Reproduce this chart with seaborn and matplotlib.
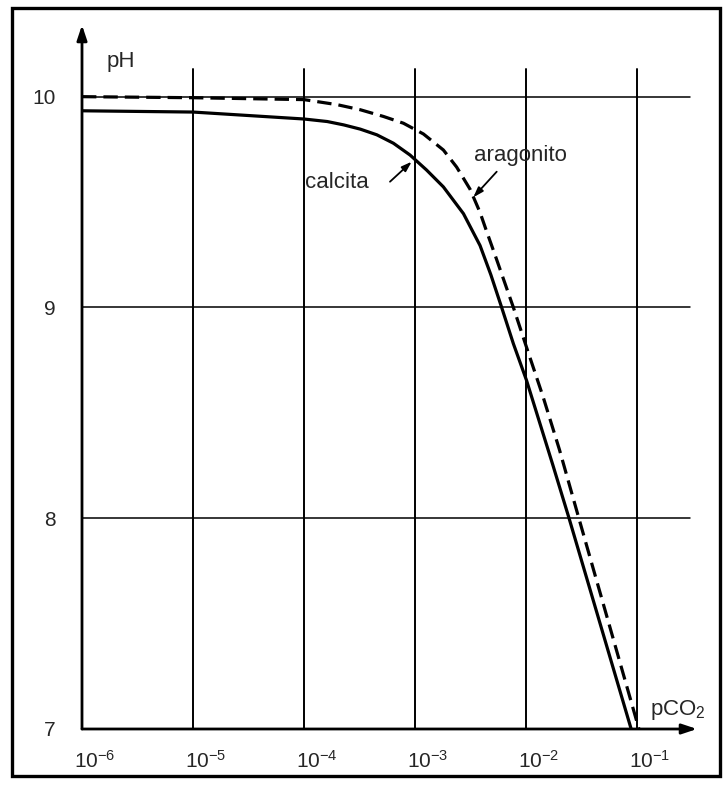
import matplotlib
matplotlib.use("Agg")
import matplotlib.pyplot as plt
import matplotlib.transforms as mtransforms
from matplotlib.patches import Rectangle
import seaborn as sns
import pandas as pd

# ---- data ----
calcita_pco2 = [1e-6, 1e-5, 1e-4, 1.62e-4, 2.28e-4, 3.21e-4, 4.53e-4, 6.39e-4, 9.02e-4,
                1.27e-3, 1.80e-3, 2.73e-3, 3.85e-3, 4.82e-3, 6.03e-3, 7.69e-3, 1.01e-2,
                1.74e-2, 2.44e-2, 8.85e-2]
calcita_ph = [9.933, 9.927, 9.894, 9.882, 9.866, 9.846, 9.819, 9.779, 9.723,
              9.652, 9.572, 9.445, 9.294, 9.155, 9.0, 8.828, 8.654,
              8.254, 8.0, 7.0]

aragonito_pco2 = [1e-6, 1e-5, 1e-4, 1.99e-4, 3.21e-4, 5.2e-4, 7.86e-4, 1.19e-3, 1.80e-3,
                  2.37e-3, 3.13e-3, 3.85e-3, 4.42e-3, 5.28e-3, 7.69e-3, 1.01e-2,
                  1.42e-2, 2.0e-2, 2.99e-2, 0.104]
aragonito_ph = [10.0, 9.995, 9.986, 9.962, 9.938, 9.906, 9.874, 9.823, 9.747,
                9.666, 9.561, 9.451, 9.36, 9.246, 9.0, 8.811,
                8.578, 8.325, 8.0, 7.0]

x_ticks = [1e-6, 1e-5, 1e-4, 1e-3, 1e-2, 1e-1]
x_tick_labels = [r"$\mathregular{10^{-6}}$", r"$\mathregular{10^{-5}}$", r"$\mathregular{10^{-4}}$",
                 r"$\mathregular{10^{-3}}$", r"$\mathregular{10^{-2}}$", r"$\mathregular{10^{-1}}$"]
y_ticks = [7, 8, 9, 10]
y_tick_labels = ["7", "8", "9", "10"]

df = pd.concat([
    pd.DataFrame({"pCO2": calcita_pco2, "pH": calcita_ph, "mineral": "calcita"}),
    pd.DataFrame({"pCO2": aragonito_pco2, "pH": aragonito_ph, "mineral": "aragonito"}),
], ignore_index=True)

# ---- style ----
sns.set_style("white")
plt.rcParams["font.family"] = ["Liberation Sans", "DejaVu Sans"]
plt.rcParams["mathtext.fontset"] = "custom"
plt.rcParams["mathtext.rm"] = "Liberation Sans"
plt.rcParams["mathtext.it"] = "Liberation Sans:italic"
plt.rcParams["mathtext.bf"] = "Liberation Sans:bold"

W, H = 723, 785
fig = plt.figure(figsize=(W / 100, H / 100), dpi=100)
ax = fig.add_axes([82 / W, 56 / H, (697 - 82) / W, (729 - 25) / H])

ax.set_xscale("log")
ax.set_xlim(1e-6, 10 ** -0.46)
ax.set_ylim(7, 10.34)

# grid lines (partial, as in the reference)
for yv in [8, 9, 10]:
    ax.plot([1e-6, 10 ** -0.52], [yv, yv], color="black", lw=1.1, zorder=1)
for xv in x_ticks[1:]:
    ax.plot([xv, xv], [7, 10.13], color="black", lw=1.4, zorder=1)

sns.lineplot(data=df, x="pCO2", y="pH", style="mineral",
             dashes={"calcita": "", "aragonito": (4.5, 2.2)},
             color="black", lw=2.3, legend=False, sort=False, estimator=None,
             ax=ax, zorder=3)
for ln in ax.get_lines():
    ln.set_solid_joinstyle("round")
    ln.set_dash_joinstyle("round")

for s in ax.spines.values():
    s.set_visible(False)

# axes with arrow heads
ax.annotate("", xy=(0, 1), xycoords="axes fraction", xytext=(0, 0),
            arrowprops=dict(arrowstyle="-|>,head_length=0.9,head_width=0.3",
                            color="black", lw=2.0, shrinkA=0, shrinkB=0), zorder=5)
ax.annotate("", xy=(1, 0), xycoords="axes fraction", xytext=(0, 0),
            arrowprops=dict(arrowstyle="-|>,head_length=0.9,head_width=0.3",
                            color="black", lw=2.0, shrinkA=0, shrinkB=0), zorder=5)

ax.set_xticks(x_ticks)
ax.set_xticklabels(x_tick_labels)
ax.minorticks_off()
ax.set_yticks(y_ticks)
ax.set_yticklabels(y_tick_labels)
ax.tick_params(axis="x", length=0, pad=15, labelsize=15)
ax.tick_params(axis="y", length=0, pad=19, labelsize=15)
offset = mtransforms.ScaledTranslation(13 / 100, 0, fig.dpi_scale_trans)
for lab in ax.get_xticklabels():
    lab.set_transform(lab.get_transform() + offset)
ax.set_xlabel("")
ax.set_ylabel("")

# axis titles
fig.text(107 / W, 1 - 61 / H, "pH", fontsize=16, ha="left", va="center")
fig.text(650 / W, 1 - 710 / H, "pCO$_2$", fontsize=16, ha="left", va="center")

# curve labels with arrows
fig.text(337 / W, 1 - 183 / H, "calcita", fontsize=16, ha="center", va="center")
fig.text(520 / W, 1 - 155 / H, "aragonito", fontsize=16, ha="center", va="center")
ax.annotate("", xy=(411.7 / W, 1 - 161.7 / H), xycoords="figure fraction",
            xytext=(390 / W, 1 - 181.7 / H), textcoords="figure fraction",
            arrowprops=dict(arrowstyle="-|>,head_length=0.6,head_width=0.2",
                            color="black", lw=1.3, shrinkA=0, shrinkB=0))
ax.annotate("", xy=(473.3 / W, 1 - 197.3 / H), xycoords="figure fraction",
            xytext=(496.7 / W, 1 - 171.7 / H), textcoords="figure fraction",
            arrowprops=dict(arrowstyle="-|>,head_length=0.6,head_width=0.2",
                            color="black", lw=1.3, shrinkA=0, shrinkB=0))

# outer frame
fig.patches.append(Rectangle((12 / W, 1 - 776 / H), (720 - 12) / W, (776 - 8) / H,
                             transform=fig.transFigure, fill=False,
                             edgecolor="black", lw=2.4))

fig.savefig("out.png", dpi=100)
